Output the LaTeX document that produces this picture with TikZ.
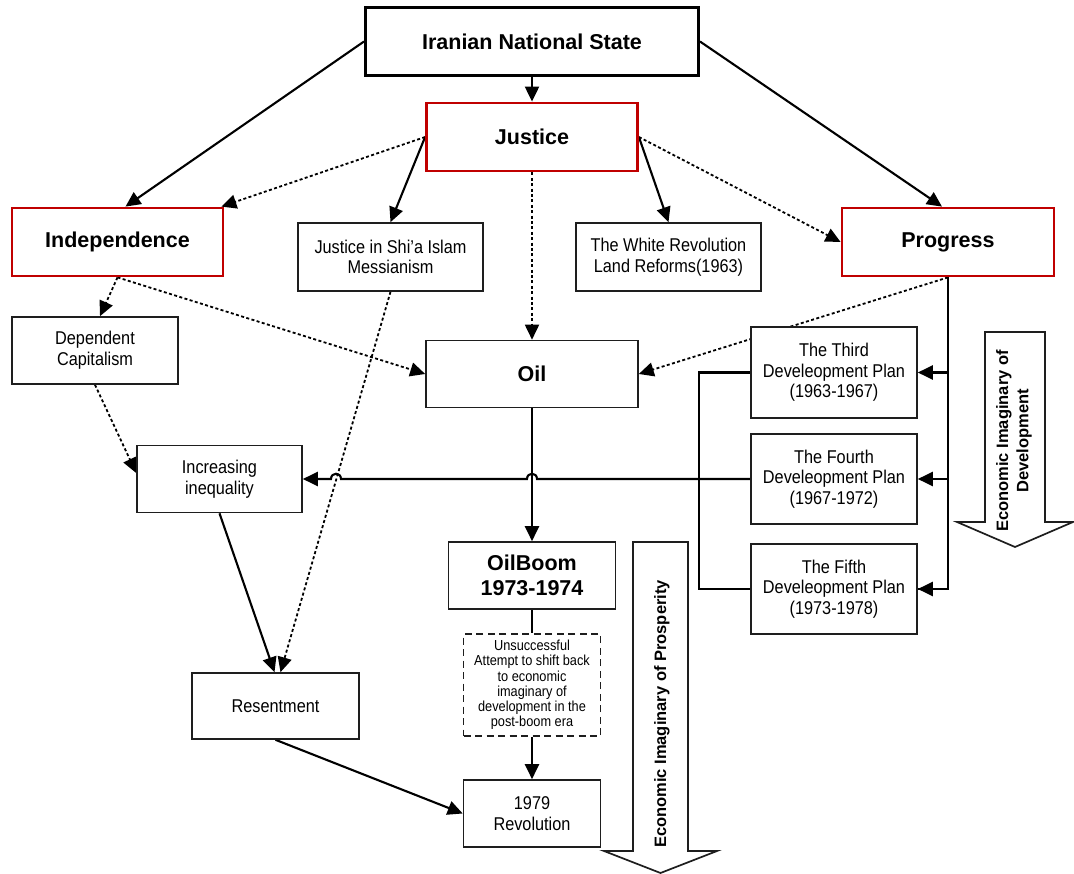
\documentclass[tikz,border=0pt]{standalone}
\usepackage{fontspec}
\setmainfont{Liberation Sans}[FakeStretch=0.88]
\newfontfamily\hdfont{Liberation Sans}
\usetikzlibrary{arrows.meta,calc,backgrounds}
\definecolor{boxred}{RGB}{192,0,0}
\definecolor{ink}{RGB}{30,30,30}
\tikzset{
  plainbox/.style={draw=ink, fill=white, inner sep=0pt, align=center, line width=1.6pt,
    font=\fontsize{18.5}{20.7}\selectfont},
  keybox/.style={plainbox, draw=boxred, line width=2.8pt,
    font=\hdfont\bfseries\fontsize{21.5}{25}\selectfont},
  topbox/.style={keybox, draw=black, line width=3pt},
  boldbox/.style={plainbox, font=\hdfont\bfseries\fontsize{21.5}{25}\selectfont},
  dashbox/.style={plainbox, line width=1.4pt, dash pattern=on 7pt off 4.5pt,
    font=\fontsize{14.5}{15.2}\selectfont},
  arr/.style={-{Triangle[length=15pt,width=14pt]}, line width=2.1pt},
  plainline/.style={line width=2.1pt},
  dotarr/.style={arr, line width=1.8pt, dash pattern=on 3pt off 2.4pt},
  bigarrow/.style={draw=ink, fill=white, line width=1.7pt, line join=miter},
  rottext/.style={rotate=90, align=center, inner sep=0pt,
    font=\hdfont\bfseries\fontsize{16.5}{20.4}\selectfont}
}
\begin{document}
\begin{tikzpicture}[x=1pt,y=-1pt]
\useasboundingbox (0,0) rectangle (1074,874);

% big hollow arrows
\draw[bigarrow] (985,332) -- (1045,332) -- (1045,522) -- (1073,522) -- (1015,547)
  -- (957,522) -- (985,522) -- cycle;
\node[rottext] (devtxt) at (1014,441) {Economic Imaginary of\\Development};
\draw[bigarrow] (633,542) -- (688,542) -- (688,851) -- (717,851) -- (660.5,873)
  -- (604,851) -- (633,851) -- cycle;
\node[rottext] (prostxt) at (662,714) {Economic Imaginary of Prosperity};

% nodes
\node[topbox, minimum width=333pt, minimum height=68pt] (nat) at (532,41.5) {Iranian National State};
\node[keybox, minimum width=211pt, minimum height=68pt] (just) at (532,137) {Justice};
\node[keybox, minimum width=211pt, minimum height=68pt] (indep) at (117.5,242) {Independence};
\node[keybox, minimum width=212pt, minimum height=68pt] (prog) at (948,242) {Progress};
\node[plainbox, minimum width=185pt, minimum height=68pt] (shia) at (390.5,257) {Justice in Shi'a Islam\\Messianism};
\node[plainbox, minimum width=185pt, minimum height=68pt] (white) at (668.5,257) {The White Revolution\\Land Reforms(1963)};
\node[plainbox, minimum width=166pt, minimum height=67pt] (dep) at (95,350.5) {Dependent\\Capitalism};
\node[boldbox, minimum width=212pt, minimum height=67pt] (oil) at (532,374) {Oil};
\node[plainbox, minimum width=165pt, minimum height=67pt] (ineq) at (219.5,479) {Increasing\\inequality};
\node[plainbox, minimum width=166pt, minimum height=91pt] (third) at (834,372.5) {The Third\\Develeopment Plan\\(1963-1967)};
\node[plainbox, minimum width=166pt, minimum height=90pt] (fourth) at (834,479) {The Fourth\\Develeopment Plan\\(1967-1972)};
\node[plainbox, minimum width=166pt, minimum height=90pt] (fifth) at (834,589) {The Fifth\\Develeopment Plan\\(1973-1978)};
\node[boldbox, minimum width=167pt, minimum height=67pt] (boom) at (532,575.5) {OilBoom\\1973-1974};
\node[dashbox, minimum width=137pt, minimum height=102pt] (unsucc) at (532,685) {Unsuccessful\\Attempt to shift back\\to economic\\imaginary of\\development in the\\post-boom era};
\node[plainbox, minimum width=137pt, minimum height=67pt] (rev) at (532,813.5) {1979\\Revolution};
\node[plainbox, minimum width=167pt, minimum height=66pt] (resent) at (275.5,706) {Resentment};

\coordinate (hopA) at (oil.south |- fourth.west);
\coordinate (hopB) at (336,479);

\begin{scope}[on background layer]
  % from the national state
  \draw[arr] (nat.south) -- (just.north);
  \draw[arr] (nat.west) -- ($(indep.north)+(8,0)$);
  \draw[arr] (nat.east) -- ($(prog.north)+(-6,0)$);
  % from justice
  \draw[dotarr] (just.west) -- ($(indep.north east)+(-3,0)$);
  \draw[arr] (just.west) -- (shia.north);
  \draw[arr] (just.east) -- (white.north);
  \draw[dotarr] (just.east) -- (prog.west);
  \draw[dotarr] (just.south) -- (oil.north);
  % from independence
  \draw[dotarr] (indep.south) -- ($(dep.north)+(5,0)$);
  \draw[dotarr] (indep.south) -- (oil.west);
  \draw[dotarr] (dep.south) -- ($(ineq.west)+(0,-6)$);
  % Shi'a Islam to resentment
  \draw[dotarr] (shia.south) -- ($(resent.north)+(5,0)$);
  % progress
  \draw[dotarr] (prog.south) -- (oil.east);
  \draw[plainline] (prog.south) |- (fifth.east);
  \draw[arr] (prog.south |- third.east) -- (third.east);
  \draw[arr] (prog.south |- fourth.east) -- (fourth.east);
  \draw[arr] ($(prog.south |- fifth.east)+(1,0)$) -- (fifth.east);
  % bracket of the plans
  \draw[plainline] (third.west) -- ++(-51,0) |- (fifth.west);
  % oil chain
  \draw[arr] (oil.south) -- (boom.north);
  \draw[plainline] (boom.south) -- (unsucc.north);
  \draw[arr] (unsucc.south) -- (rev.north);
  % plans to inequality, with hops
  \draw[arr] (fourth.west) -- ($(hopA)+(5,0)$)
    .. controls ($(hopA)+(5,-7)$) and ($(hopA)+(-5,-7)$) .. ($(hopA)+(-5,0)$)
    -- ($(hopB)+(5,0)$)
    .. controls ($(hopB)+(5,-7)$) and ($(hopB)+(-5,-7)$) .. ($(hopB)+(-5,0)$)
    -- (ineq.east);
  % to resentment and revolution
  \draw[arr] (ineq.south) -- ($(resent.north)+(-1,0)$);
  \draw[arr] (resent.south) -- (rev.west);
\end{scope}
\end{tikzpicture}
\end{document}
